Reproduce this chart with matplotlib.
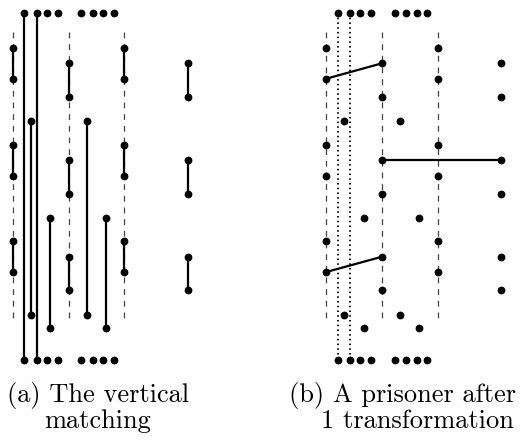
import numpy as np
import matplotlib
matplotlib.use('Agg')
import matplotlib.pyplot as plt

# all positions in pixel units of the 529x446 picture (y grows downward)
panel_dx = [0, 313.3]                 # left edge offset of panel (a) and (b)
dash_x = [13, 68.7, 124.3]            # dashed guide lines
dash_y = [31.5, 320]
col_x = [13, 68.7, 124.3, 188]        # columns of points
odd_y = [48.3, 78.7, 144.7, 175.5, 241.3, 272]
even_y = [63.3, 97, 160, 193.7, 256.7, 290.3]
row_x = [24.3, 37, 46.7, 57.7, 81.3, 92.7, 103.3, 114]   # top/bottom rows
row_y = [13, 360]
mid_a_x = [31, 87]
mid_a_y = [121, 314.7]
mid_b_x = [50.3, 106]
mid_b_y = [217.7, 328.3]

# moved edges in panel (b): (column, y-list, index) -> (column, y-list, index)
moves = [((0, 'odd', 1), (1, 'even', 0)),
         ((1, 'even', 2), (3, 'even', 2)),
         ((0, 'odd', 5), (1, 'even', 4))]

captions = [["(a) The vertical", "matching"],
            ["(b) A prisoner after", "1 transformation"]]
caption_x = [[98.3, 97.5], [402.5, 417.5]]
caption_y = [401.7, 427.7]

plt.rcParams['lines.scale_dashes'] = False

fig = plt.figure(figsize=(5.29, 4.46), dpi=100)
ax = fig.add_axes([0, 0, 1, 1])
ax.set_xlim(0, 529)
ax.set_ylim(446, 0)
ax.axis('off')

LW = 1.6
MS = 4.6
ys = {'odd': odd_y, 'even': even_y}

def col_y(i):
    return odd_y if i % 2 == 0 else even_y

for p, dx in enumerate(panel_dx):
    # dashed guides
    for x in dash_x:
        ax.plot([x + dx, x + dx], dash_y, color='#444444', lw=0.9,
                dashes=(4.2, 4.2), zorder=1)
    # points on the columns
    for i, x in enumerate(col_x):
        yy = col_y(i)
        ax.plot([x + dx] * len(yy), yy, 'o', color='k', ms=MS, ls='none', zorder=3)
        if p == 0:
            for k in range(0, len(yy), 2):
                ax.plot([x + dx, x + dx], [yy[k], yy[k + 1]], color='k', lw=LW, zorder=2)
    # top and bottom rows
    for y in row_y:
        ax.plot(np.array(row_x) + dx, [y] * len(row_x), 'o', color='k', ms=MS, ls='none', zorder=3)
    # middle points
    for xs, yy in [(mid_a_x, mid_a_y), (mid_b_x, mid_b_y)]:
        for x in xs:
            ax.plot([x + dx] * 2, yy, 'o', color='k', ms=MS, ls='none', zorder=3)
            if p == 0:
                ax.plot([x + dx] * 2, yy, color='k', lw=LW, zorder=2)
    # long connections between top and bottom rows
    for x in row_x[:2]:
        if p == 0:
            ax.plot([x + dx] * 2, row_y, color='k', lw=LW, zorder=2)
        else:
            ax.plot([x + dx] * 2, row_y, color='k', lw=1.3,
                    dashes=(1.1, 2.3), zorder=1)
    if p == 1:
        for (c0, s0, k0), (c1, s1, k1) in moves:
            ax.plot([col_x[c0] + dx, col_x[c1] + dx], [ys[s0][k0], ys[s1][k1]],
                    color='k', lw=LW, zorder=2)

for p in range(2):
    for j in range(2):
        ax.text(caption_x[p][j], caption_y[j], captions[p][j], fontfamily='cmr10',
                fontsize=19, ha='center', va='baseline')

fig.savefig('out.png', dpi=100)
